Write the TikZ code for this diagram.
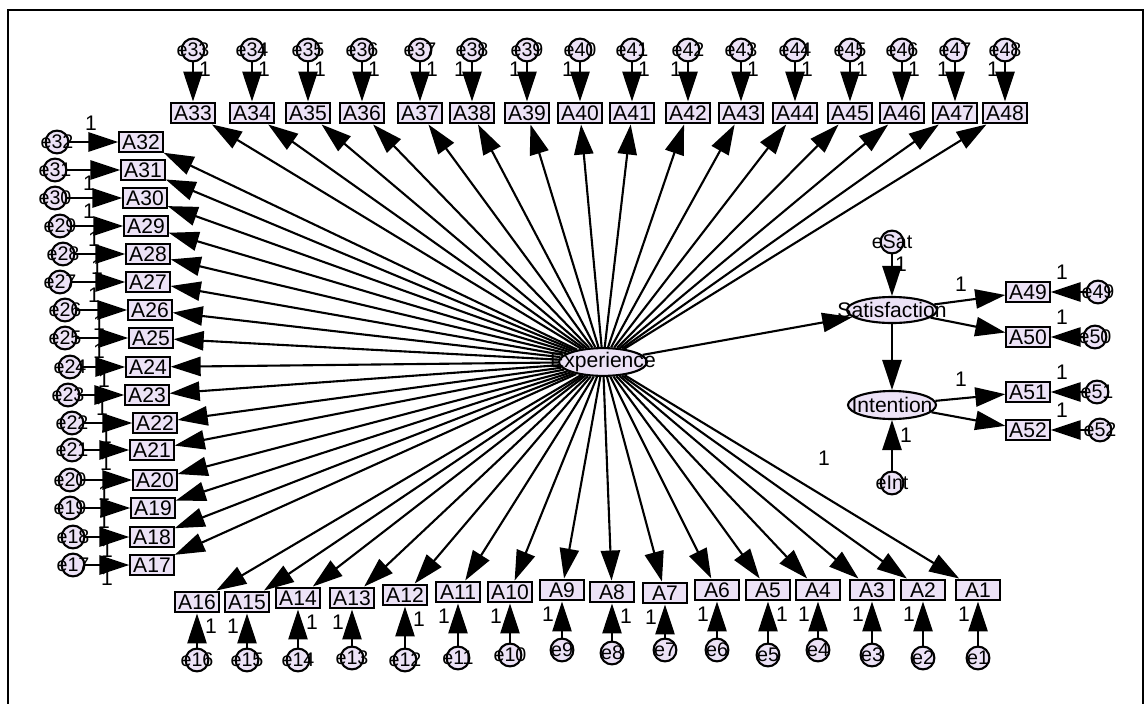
\documentclass[tikz,border=0pt]{standalone}
\usepackage{fontspec}
\setmainfont{Liberation Sans}
\usetikzlibrary{arrows.meta,shapes.geometric}
\begin{document}
\begin{tikzpicture}[x=0.025cm,y=-0.025cm,
  obs/.style={draw,line width=1.5pt,fill=lav,minimum width=1.08cm,minimum height=0.52cm,inner sep=0pt,font=\fontsize{15}{15}\selectfont},
  err/.style={draw,circle,line width=1.5pt,fill=lav,minimum size=0.57cm,inner sep=0pt,font=\fontsize{14}{14}\selectfont},
  lat/.style={draw,ellipse,line width=1.5pt,fill=lav,inner sep=0pt,font=\fontsize{15}{15}\selectfont},
  wt/.style={inner sep=0pt,font=\fontsize{15}{15}\selectfont},
  reg/.style={line width=1.5pt,-{Triangle[length=0.75cm,width=0.48cm]}}]
  \definecolor{lav}{RGB}{236,226,246}
  \useasboundingbox (0,0) rectangle (1145,704);
  \draw[line width=1pt] (8,704) -- (8,10) -- (1143,10) -- (1143,704);
  % latent variables
  \node[lat,minimum width=2.2cm,minimum height=0.62cm] (exp) at (603,362) {\makebox[0pt]{Experience}};
  \node[lat,minimum width=2.25cm,minimum height=0.65cm] (sat) at (892,310) {\makebox[0pt]{Satisfaction}};
  \node[lat,minimum width=2.2cm,minimum height=0.7cm] (int) at (892,405) {\makebox[0pt]{Intention}};
  \node[err] (esat) at (892,242) {\makebox[0pt]{eSat}};
  \node[err] (eint) at (892,483) {\makebox[0pt]{eInt}};
  % top row
  \foreach \n/\x/\s in {33/193/1,34/252/1,35/308/1,36/362/1,37/420/1,38/472/-1,39/527/-1,40/580/-1,
                        41/632/1,42/688/-1,43/741/1,44/795/1,45/850/1,46/902/1,47/955/-1,48/1005/-1}{
    \node[obs] (A\n) at (\x,113) {A\n};
    \node[err] (e\n) at (\x,50) {\makebox[0pt]{e\n}};
    \node[wt] (w\n) at (\x+12*\s,69) {1};
    \draw[reg] (e\n) -- (A\n);
  }
  % left column
  \foreach \n/\x/\y/\ex/\ly in {32/141/142/57/-19,31/143/170/55/13,30/145/198/55/13,29/146/226/60/13,
                                28/148/254/63/13,27/148/282/60/13,26/150/310/65/13,25/151/338/65/13,
                                24/148/367/70/13,23/147/395/68/13,22/155/423/72/13,21/152/450/72/13,
                                20/155/480/70/13,19/153/508/70/13,18/152/537/73/13,17/152/565/73/13}{
    \node[obs] (A\n) at (\x,\y) {A\n};
    \node[err] (e\n) at (\ex,\y) {\makebox[0pt]{e\n}};
    \node[wt] (w\n) at (\ex+34,\y+\ly) {1};
    \draw[reg] (e\n) -- (A\n);
  }
  % bottom row
  \foreach \n/\x/\y/\ey/\s in {16/197/602/660/1,15/247/602/660/-1,14/298/598/660/1,13/352/598/658/-1,
                               12/405/595/660/1,11/458/592/658/-1,10/510/592/655/-1,9/562/590/650/-1,
                               8/612/592/653/1,7/665/593/650/-1,6/717/590/650/-1,5/768/590/655/1,
                               4/818/590/650/-1,3/872/590/655/-1,2/923/590/658/-1,1/978/590/658/-1}{
    \node[obs] (A\n) at (\x,\y) {A\n};
    \node[err] (e\n) at (\x,\ey) {\makebox[0pt]{e\n}};
    \node[wt] (w\n) at (\x+14*\s,\y+24) {1};
    \draw[reg] (e\n) -- (A\n);
  }
  % indicators of satisfaction and intention
  \foreach \n/\y/\ex in {49/292/1098,50/337/1095,51/392/1097,52/430/1100}{
    \node[obs] (A\n) at (1028,\y) {A\n};
    \node[err] (e\n) at (\ex,\y) {\makebox[0pt]{e\n}};
    \node[wt] (w\n) at (1062,\y-20) {1};
    \draw[reg] (e\n) -- (A\n);
  }
  % loadings of experience
  \foreach \n in {1,...,48}{
    \draw[reg] (exp) -- (A\n);
  }
  \draw[reg] (exp) -- (sat);
  \draw[reg] (sat) -- (int);
  \draw[reg] (sat) -- (A49);
  \draw[reg] (sat) -- (A50);
  \draw[reg] (int) -- (A51);
  \draw[reg] (int) -- (A52);
  \draw[reg] (esat) -- (sat);
  \draw[reg] (eint) -- (int);
  \node[wt] (wsat) at (901,264) {1};
  \node[wt] (wint) at (906,435) {1};
  \node[wt] (w49s) at (961,284) {1};
  \node[wt] (w51i) at (961,379) {1};
  \node[wt] (w1e) at (824,458) {1};
\end{tikzpicture}
\end{document}
